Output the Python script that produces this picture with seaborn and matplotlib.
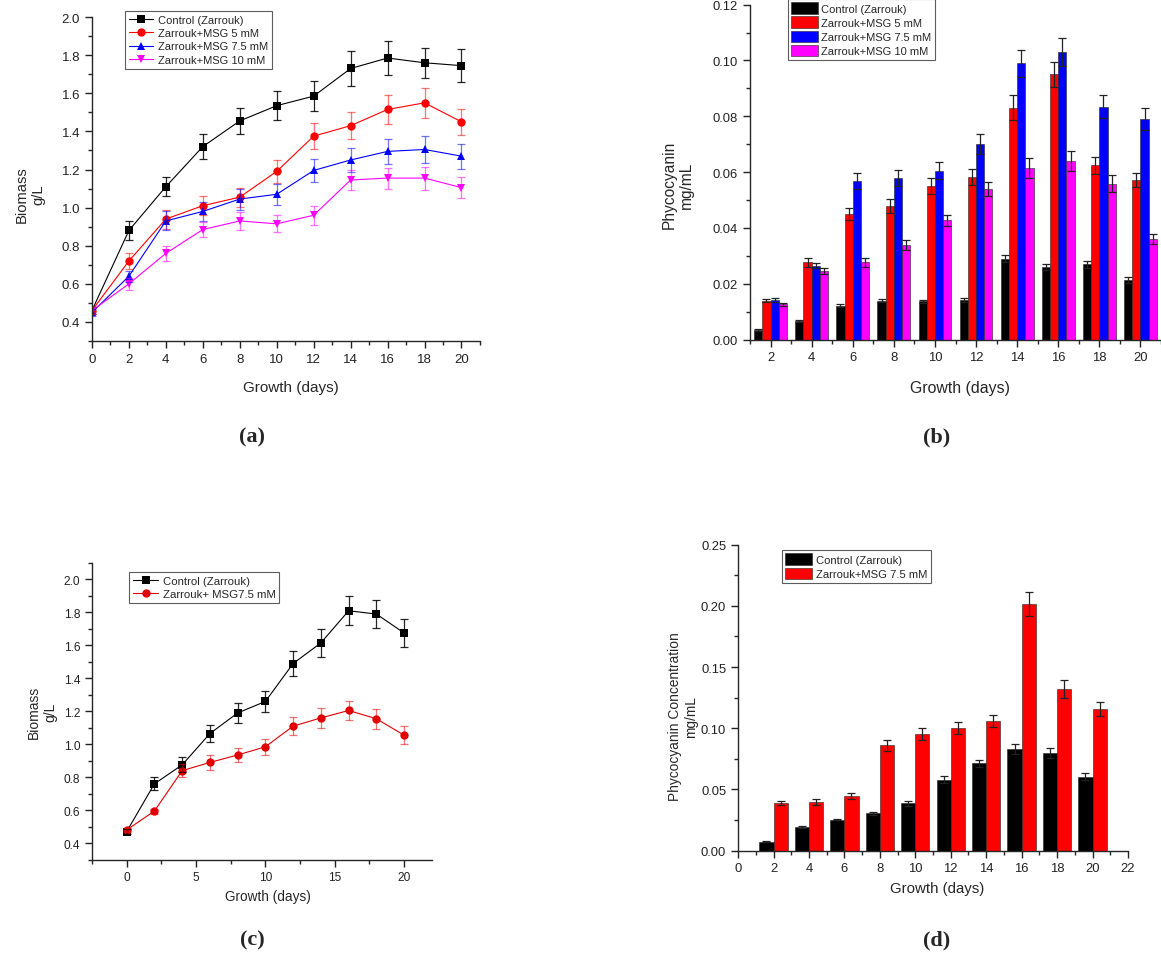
import matplotlib
matplotlib.use("Agg")
import matplotlib.pyplot as plt
import pandas as pd
import seaborn as sns
from matplotlib.ticker import MultipleLocator, FormatStrFormatter

# ---- data ----
days_a = [0, 2, 4, 6, 8, 10, 12, 14, 16, 18, 20]
days_b = [2, 4, 6, 8, 10, 12, 14, 16, 18, 20]

treat4 = ["Control (Zarrouk)", "Zarrouk+MSG 5 mM", "Zarrouk+MSG 7.5 mM", "Zarrouk+MSG 10 mM"]
colors4 = ["#000000", "#FF0000", "#0000FF", "#FF00FF"]
markers4 = ["s", "o", "^", "v"]

# (a) biomass g/L
bio_ctrl = [0.46, 0.88, 1.11, 1.32, 1.455, 1.535, 1.585, 1.73, 1.785, 1.76, 1.745]
bio_5 = [0.46, 0.72, 0.94, 1.01, 1.055, 1.19, 1.375, 1.43, 1.515, 1.55, 1.45]
bio_75 = [0.45, 0.64, 0.93, 0.98, 1.045, 1.07, 1.195, 1.25, 1.295, 1.305, 1.27]
bio_10 = [0.46, 0.60, 0.76, 0.885, 0.93, 0.915, 0.96, 1.145, 1.155, 1.155, 1.105]
err_ctrl = [0.02, 0.05, 0.05, 0.065, 0.07, 0.075, 0.08, 0.09, 0.09, 0.08, 0.085]
err_5 = [0.02, 0.04, 0.05, 0.05, 0.05, 0.06, 0.07, 0.07, 0.075, 0.08, 0.07]
err_75 = [0.02, 0.03, 0.05, 0.05, 0.055, 0.055, 0.06, 0.065, 0.065, 0.07, 0.065]
err_10 = [0.02, 0.03, 0.04, 0.04, 0.045, 0.045, 0.05, 0.055, 0.055, 0.06, 0.055]

# (b) phycocyanin mg/mL
pc_ctrl = [0.0035, 0.0067, 0.0122, 0.0140, 0.0137, 0.0143, 0.0290, 0.0260, 0.0270, 0.0213]
pc_5 = [0.0140, 0.0277, 0.0450, 0.0480, 0.0550, 0.0583, 0.0830, 0.0950, 0.0625, 0.0572]
pc_75 = [0.0143, 0.0265, 0.0568, 0.0580, 0.0605, 0.0700, 0.0990, 0.1030, 0.0835, 0.0790]
pc_10 = [0.0126, 0.0245, 0.0277, 0.0340, 0.0428, 0.0538, 0.0615, 0.0640, 0.0558, 0.0360]
pce_ctrl = [0.0003, 0.0003, 0.0004, 0.0005, 0.0006, 0.0008, 0.0012, 0.0012, 0.0012, 0.0010]
pce_5 = [0.0005, 0.0015, 0.0020, 0.0025, 0.0030, 0.0030, 0.0045, 0.0045, 0.0030, 0.0025]
pce_75 = [0.0008, 0.0010, 0.0028, 0.0028, 0.0030, 0.0035, 0.0048, 0.0050, 0.0042, 0.0040]
pce_10 = [0.0005, 0.0010, 0.0015, 0.0018, 0.0020, 0.0025, 0.0035, 0.0035, 0.0030, 0.0018]

# (c) biomass g/L, two treatments
treat2_c = ["Control (Zarrouk)", "Zarrouk+ MSG7.5 mM"]
bio2_ctrl = [0.47, 0.76, 0.875, 1.065, 1.19, 1.26, 1.49, 1.615, 1.81, 1.79, 1.675]
bio2_75 = [0.48, 0.595, 0.84, 0.89, 0.935, 0.985, 1.11, 1.16, 1.205, 1.155, 1.055]
err2_ctrl = [0.015, 0.04, 0.045, 0.05, 0.06, 0.063, 0.073, 0.083, 0.089, 0.087, 0.083]
err2_75 = [0.015, 0.015, 0.04, 0.045, 0.045, 0.05, 0.055, 0.06, 0.06, 0.06, 0.055]

# (d) phycocyanin concentration mg/mL
treat2_d = ["Control (Zarrouk)", "Zarrouk+MSG 7.5 mM"]
pcd_ctrl = [0.0074, 0.0195, 0.0253, 0.0305, 0.0387, 0.0580, 0.0714, 0.0830, 0.0798, 0.0605]
pcd_75 = [0.0389, 0.0400, 0.0447, 0.0863, 0.0953, 0.1002, 0.1057, 0.2015, 0.1321, 0.1157]
pcde_ctrl = [0.0005, 0.0008, 0.0005, 0.0010, 0.0020, 0.0030, 0.0030, 0.0040, 0.0040, 0.0030]
pcde_75 = [0.0020, 0.0025, 0.0025, 0.0045, 0.0050, 0.0050, 0.0050, 0.0100, 0.0070, 0.0060]

sns.set_style("ticks")
plt.rcParams["font.family"] = ["Liberation Sans", "DejaVu Sans"]
plt.rcParams["axes.linewidth"] = 1.0

fig = plt.figure(figsize=(11.61, 9.70), dpi=100)
ax_a = fig.add_axes([0.0792, 0.6474, 0.3342, 0.3340])
ax_b = fig.add_axes([0.6460, 0.6488, 0.3540, 0.3454])
ax_c = fig.add_axes([0.0792, 0.1127, 0.2928, 0.3059])
ax_d = fig.add_axes([0.6357, 0.1220, 0.3359, 0.3155])


def long_frame(x, names, series, col):
    rows = []
    for name, vals in zip(names, series):
        for xi, v in zip(x, vals):
            rows.append({"day": xi, col: v, "treatment": name})
    return pd.DataFrame(rows)


def style_axis(ax, tick_fs):
    sns.despine(ax=ax)
    ax.tick_params(which="major", direction="out", length=5, width=1, labelsize=tick_fs, colors="#222222")
    ax.tick_params(which="minor", direction="out", length=3, width=1)


def line_panel(ax, x, names, series, errs, cols, marks, msize, legend_xy, legend_fs):
    df = long_frame(x, names, series, "biomass")
    sns.lineplot(data=df, x="day", y="biomass", hue="treatment", style="treatment",
                 palette=dict(zip(names, cols)), markers=dict(zip(names, marks)),
                 dashes=False, errorbar=None, linewidth=0.8, markersize=msize,
                 markeredgewidth=0, ax=ax)
    for vals, e, c in zip(series, errs, cols):
        ax.errorbar(x, vals, yerr=e, fmt="none", ecolor=c, elinewidth=0.9,
                    capsize=3, capthick=0.9, alpha=0.55 if c != "#000000" else 0.85)
    sns.move_legend(ax, "upper left", bbox_to_anchor=legend_xy, title=None, frameon=True,
                    fancybox=False, fontsize=legend_fs, borderpad=0.35, labelspacing=0.3,
                    handlelength=2.2, handletextpad=0.4, borderaxespad=0)
    leg = ax.get_legend()
    leg.get_frame().set_edgecolor("#333333")
    leg.get_frame().set_linewidth(0.8)


def bar_panel(ax, x, names, series, errs, cols, legend_xy, legend_fs):
    df = long_frame(x, names, series, "pc")
    sns.barplot(data=df, x="day", y="pc", hue="treatment", native_scale=True,
                palette=dict(zip(names, cols)), width=0.8, errorbar=None,
                edgecolor="#222222", linewidth=0.4, saturation=1, ax=ax)
    for cont, vals, e in zip(ax.containers, series, errs):
        xs = [p.get_x() + p.get_width() / 2 for p in cont.patches]
        ax.errorbar(xs, vals, yerr=e, fmt="none", ecolor="#222222", elinewidth=0.9,
                    capsize=3, capthick=0.9)
    sns.move_legend(ax, "upper left", bbox_to_anchor=legend_xy, title=None, frameon=True,
                    fancybox=False, fontsize=legend_fs, borderpad=0.3, labelspacing=0.25,
                    handlelength=2.4, handleheight=1.2, handletextpad=0.3, borderaxespad=0)
    leg = ax.get_legend()
    leg.get_frame().set_edgecolor("#333333")
    leg.get_frame().set_linewidth(0.8)


# (a)
line_panel(ax_a, days_a, treat4, [bio_ctrl, bio_5, bio_75, bio_10],
           [err_ctrl, err_5, err_75, err_10], colors4, markers4, 6, (0.085, 1.019), 8)
ax_a.set_xlim(0, 21)
ax_a.set_ylim(0.3, 2.0)
ax_a.xaxis.set_major_locator(MultipleLocator(2))
ax_a.xaxis.set_minor_locator(MultipleLocator(1))
ax_a.yaxis.set_major_locator(MultipleLocator(0.2))
ax_a.yaxis.set_minor_locator(MultipleLocator(0.1))
ax_a.yaxis.set_major_formatter(FormatStrFormatter("%.1f"))
style_axis(ax_a, 9.5)
ax_a.set_xlabel("Growth (days)", fontsize=11)
ax_a.set_ylabel("Biomass\ng/L", fontsize=10.6)
ax_a.xaxis.set_label_coords(0.513, -0.12)
ax_a.yaxis.set_label_coords(-0.121, 0.455)

# (b)
bar_panel(ax_b, days_b, treat4, [pc_ctrl, pc_5, pc_75, pc_10],
          [pce_ctrl, pce_5, pce_75, pce_10], colors4, (0.092, 1.017), 8)
ax_b.set_xlim(1, 21)
ax_b.set_ylim(0, 0.12)
ax_b.xaxis.set_major_locator(MultipleLocator(2))
ax_b.xaxis.set_minor_locator(MultipleLocator(1))
ax_b.set_xticks(days_b)
ax_b.yaxis.set_major_locator(MultipleLocator(0.02))
ax_b.yaxis.set_minor_locator(MultipleLocator(0.01))
ax_b.yaxis.set_major_formatter(FormatStrFormatter("%.2f"))
style_axis(ax_b, 9.4)
ax_b.set_xlabel("Growth (days)", fontsize=11.4)
ax_b.set_ylabel("Phycocyanin\nmg/mL", fontsize=11.2)
ax_b.xaxis.set_label_coords(0.511, -0.12)
ax_b.yaxis.set_label_coords(-0.136, 0.465)

# (c)
line_panel(ax_c, days_a, treat2_c, [bio2_ctrl, bio2_75], [err2_ctrl, err2_75],
           ["#000000", "#E00000"], ["s", "o"], 6, (0.109, 0.970), 8.2)
ax_c.set_xlim(-2.5, 22)
ax_c.set_ylim(0.3, 2.1)
ax_c.xaxis.set_major_locator(MultipleLocator(5))
ax_c.xaxis.set_minor_locator(MultipleLocator(2.5))
ax_c.yaxis.set_major_locator(MultipleLocator(0.2))
ax_c.yaxis.set_minor_locator(MultipleLocator(0.1))
ax_c.yaxis.set_major_formatter(FormatStrFormatter("%.1f"))
style_axis(ax_c, 8.6)
ax_c.set_xlabel("Growth (days)", fontsize=9.8)
ax_c.set_ylabel("Biomass\ng/L", fontsize=10)
ax_c.xaxis.set_label_coords(0.518, -0.10)
ax_c.yaxis.set_label_coords(-0.103, 0.50)

# (d)
bar_panel(ax_d, days_b, treat2_d, [pcd_ctrl, pcd_75], [pcde_ctrl, pcde_75],
          ["#000000", "#FF0000"], (0.113, 0.983), 8.1)
ax_d.set_xlim(0, 22)
ax_d.set_ylim(0, 0.25)
ax_d.xaxis.set_major_locator(MultipleLocator(2))
ax_d.xaxis.set_minor_locator(MultipleLocator(1))
ax_d.yaxis.set_major_locator(MultipleLocator(0.05))
ax_d.yaxis.set_minor_locator(MultipleLocator(0.025))
ax_d.yaxis.set_major_formatter(FormatStrFormatter("%.2f"))
style_axis(ax_d, 9.4)
ax_d.set_xlabel("Growth (days)", fontsize=10.8)
ax_d.set_ylabel("Phycocyanin Concentration\nmg/mL", fontsize=9.9)
ax_d.xaxis.set_label_coords(0.51, -0.10)
ax_d.yaxis.set_label_coords(-0.103, 0.44)

# panel captions
for lab, xp, yp in [("(a)", 252, 437), ("(b)", 937, 437), ("(c)", 252, 940), ("(d)", 937, 940)]:
    fig.text(xp / 1161, 1 - yp / 970, lab, ha="center", va="center",
             fontsize=16, fontweight="bold", family=["Liberation Serif", "DejaVu Serif"])

fig.savefig("out.png", dpi=100)
